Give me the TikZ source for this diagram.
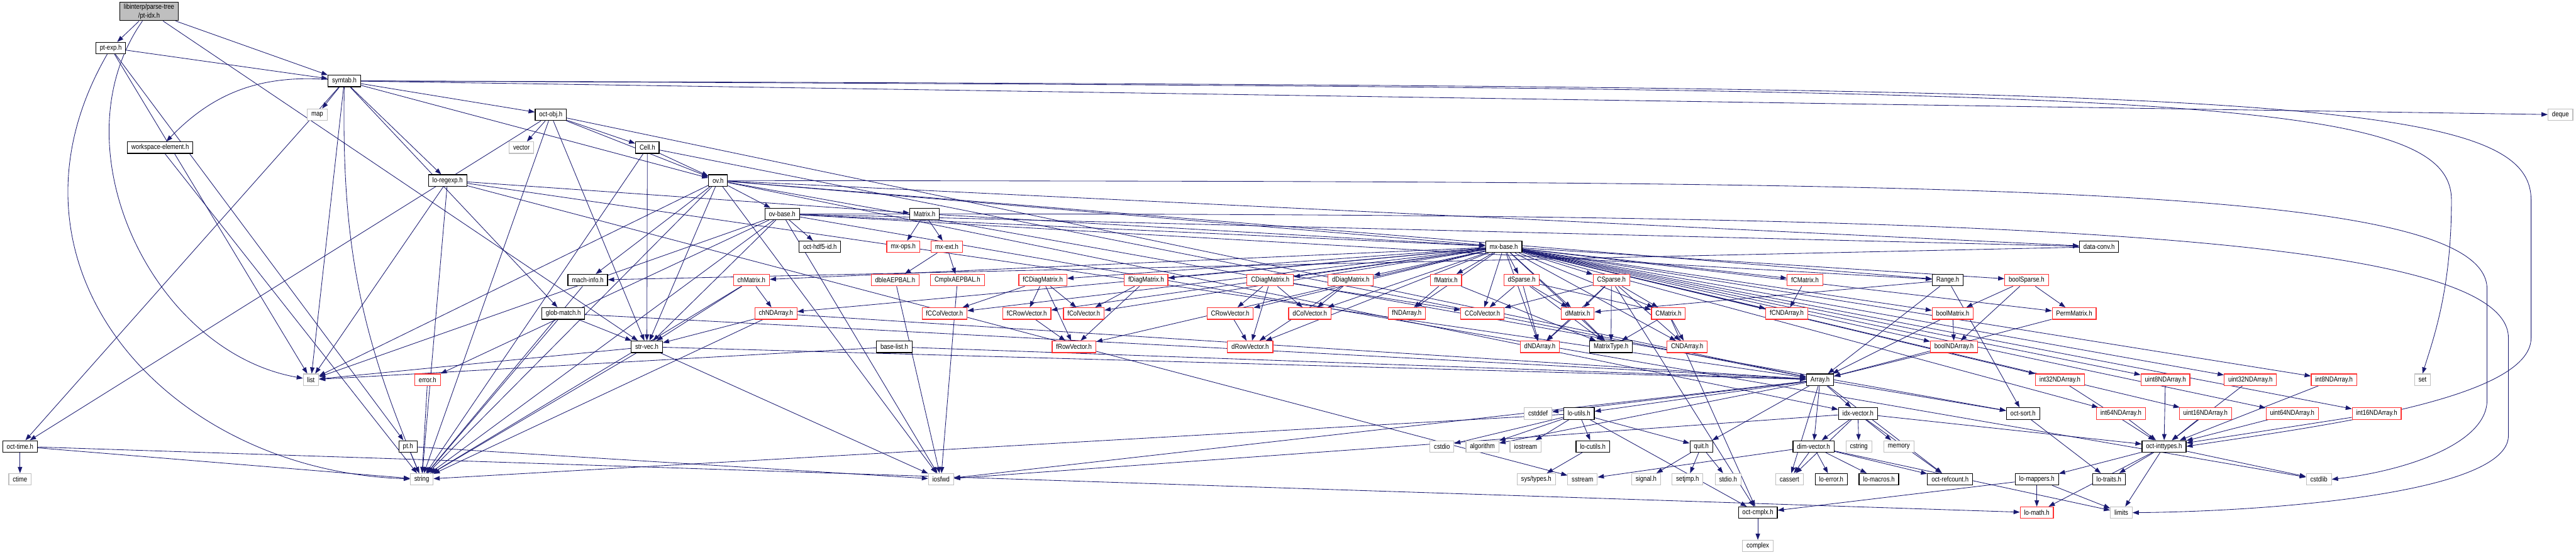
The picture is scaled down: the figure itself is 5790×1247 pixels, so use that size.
\documentclass[tikz,border=0pt]{standalone}
\usepackage{fontspec}
\newfontfamily\dotfont{Liberation Sans}[FakeStretch=0.85]
\usetikzlibrary{arrows.meta, backgrounds}
\definecolor{edgeblue}{HTML}{191970}
\definecolor{truncred}{HTML}{FF3030}
\definecolor{sysgray}{HTML}{BFBFBF}
\tikzset{
  hdr/.style={draw=black, fill=white, line width=0.8pt, inner xsep=4.5pt, inner ysep=0pt,
    minimum height=13pt, font=\dotfont\fontsize{8}{9.5}\selectfont},
  trunc/.style={hdr, draw=truncred},
  sys/.style={hdr, draw=sysgray},
  mainhdr/.style={hdr, fill=sysgray, align=center, minimum height=20.5pt},
  dep/.style={draw=edgeblue, line width=0.6pt, -{Triangle[length=7pt, width=5pt]}},
}
\begin{document}
\begin{tikzpicture}[x=0.5pt, y=-0.5pt]
  \useasboundingbox (0,0) rectangle (5790,1247);
  \node[mainhdr] (root) at (335,26) {libinterp/parse-tree\\/pt-idx.h};
  \node[hdr] (ptexp) at (249,108) {pt-exp.h};
  \node[hdr] (symtab) at (774,182) {symtab.h};
  \node[sys] (map) at (713,258) {map};
  \node[hdr] (octobj) at (1238,258) {oct-obj.h};
  \node[sys] (deque) at (5755,258) {deque};
  \node[hdr] (wselem) at (360,332) {workspace-element.h};
  \node[sys] (vector) at (1172,332) {vector};
  \node[hdr] (cell) at (1455,332) {Cell.h};
  \node[hdr] (regexp) at (1006,406) {lo-regexp.h};
  \node[hdr] (ov) at (1614,406) {ov.h};
  \node[hdr] (ovbase) at (1758,481) {ov-base.h};
  \node[hdr] (matrix) at (2078,481) {Matrix.h};
  \node[hdr] (hdfid) at (1843,555) {oct-hdf5-id.h};
  \node[trunc] (mxops) at (2030,555) {mx-ops.h};
  \node[trunc] (mxext) at (2128,555) {mx-ext.h};
  \node[hdr] (mxbase) at (3380,555) {mx-base.h};
  \node[hdr] (dataconv) at (4718,555) {data-conv.h};
  \node[hdr] (machinfo) at (1321,630) {mach-info.h};
  \node[trunc] (chmat) at (1689,630) {chMatrix.h};
  \node[trunc] (dbleaep) at (2012,630) {dbleAEPBAL.h};
  \node[trunc] (cmplxaep) at (2152,630) {CmplxAEPBAL.h};
  \node[trunc] (fcdiag) at (2344,630) {fCDiagMatrix.h};
  \node[trunc] (fdiag) at (2576,630) {fDiagMatrix.h};
  \node[trunc] (cdiag) at (2855,630) {CDiagMatrix.h};
  \node[trunc] (ddiag) at (3036,630) {dDiagMatrix.h};
  \node[trunc] (fmat) at (3250,630) {fMatrix.h};
  \node[trunc] (dsparse) at (3420,630) {dSparse.h};
  \node[trunc] (csparse) at (3622,630) {CSparse.h};
  \node[trunc] (fcmat) at (4057,630) {fCMatrix.h};
  \node[hdr] (range) at (4378,630) {Range.h};
  \node[trunc] (boolsparse) at (4555,630) {boolSparse.h};
  \node[hdr] (globmatch) at (1266,705) {glob-match.h};
  \node[trunc] (chnd) at (1744,705) {chNDArray.h};
  \node[trunc] (fccol) at (2123,705) {fCColVector.h};
  \node[trunc] (fcrow) at (2308,705) {fCRowVector.h};
  \node[trunc] (fcol) at (2436,705) {fColVector.h};
  \node[trunc] (crow) at (2765,705) {CRowVector.h};
  \node[trunc] (dcol) at (2944,705) {dColVector.h};
  \node[trunc] (fnd) at (3162,705) {fNDArray.h};
  \node[trunc] (ccol) at (3332,705) {CColVector.h};
  \node[trunc] (dmat) at (3546,705) {dMatrix.h};
  \node[trunc] (cmat) at (3750,705) {CMatrix.h};
  \node[trunc] (fcnd) at (4016,705) {fCNDArray.h};
  \node[trunc] (boolmat) at (4389,705) {boolMatrix.h};
  \node[trunc] (permmat) at (4662,705) {PermMatrix.h};
  \node[hdr] (strvec) at (1454,780) {str-vec.h};
  \node[hdr] (baselist) at (2010,780) {base-list.h};
  \node[trunc] (frow) at (2414,780) {fRowVector.h};
  \node[trunc] (drow) at (2810,780) {dRowVector.h};
  \node[trunc] (dnd) at (3461,780) {dNDArray.h};
  \node[hdr] (mtype) at (3621,780) {MatrixType.h};
  \node[trunc] (cnd) at (3792,780) {CNDArray.h};
  \node[trunc] (boolnd) at (4392,780) {boolNDArray.h};
  \node[sys] (list) at (699,854) {list};
  \node[trunc] (error) at (961,854) {error.h};
  \node[hdr] (array) at (4091,854) {Array.h};
  \node[trunc] (i32) at (4630,854) {int32NDArray.h};
  \node[trunc] (u8) at (4867,854) {uint8NDArray.h};
  \node[trunc] (u32) at (5058,854) {uint32NDArray.h};
  \node[trunc] (i8) at (5246,854) {int8NDArray.h};
  \node[sys] (set) at (5445,854) {set};
  \node[sys] (cstddef) at (3457,930) {cstddef};
  \node[hdr] (loutils) at (3549,930) {lo-utils.h};
  \node[hdr] (idxvec) at (4176,930) {idx-vector.h};
  \node[hdr] (octsort) at (4547,930) {oct-sort.h};
  \node[trunc] (i64) at (4767,930) {int64NDArray.h};
  \node[trunc] (u16) at (4957,930) {uint16NDArray.h};
  \node[trunc] (u64) at (5152,930) {uint64NDArray.h};
  \node[trunc] (i16) at (5342,930) {int16NDArray.h};
  \node[hdr] (octtime) at (45,1004) {oct-time.h};
  \node[hdr] (pt) at (917,1004) {pt.h};
  \node[sys] (cstdio) at (3241,1004) {cstdio};
  \node[sys] (algorithm) at (3332,1004) {algorithm};
  \node[sys] (iostream) at (3429,1004) {iostream};
  \node[hdr] (locutils) at (3580,1004) {lo-cutils.h};
  \node[hdr] (quit) at (3824,1004) {quit.h};
  \node[hdr] (dimvec) at (4076,1004) {dim-vector.h};
  \node[sys] (cstring) at (4178,1004) {cstring};
  \node[sys] (memory) at (4268,1004) {memory};
  \node[hdr] (inttypes) at (4864,1004) {oct-inttypes.h};
  \node[sys] (ctime) at (45,1078) {ctime};
  \node[sys] (string) at (948,1078) {string};
  \node[sys] (iosfwd) at (2115,1078) {iosfwd};
  \node[sys] (systypes) at (3453,1078) {sys/types.h};
  \node[sys] (sstream) at (3557,1078) {sstream};
  \node[sys] (signal) at (3700,1078) {signal.h};
  \node[sys] (setjmp) at (3793,1078) {setjmp.h};
  \node[sys] (stdio) at (3884,1078) {stdio.h};
  \node[sys] (cassert) at (4022,1078) {cassert};
  \node[hdr] (loerror) at (4116,1078) {lo-error.h};
  \node[hdr] (lomacros) at (4223,1078) {lo-macros.h};
  \node[hdr] (refcount) at (4383,1078) {oct-refcount.h};
  \node[hdr] (lomappers) at (4578,1078) {lo-mappers.h};
  \node[hdr] (lotraits) at (4740,1078) {lo-traits.h};
  \node[sys] (cstdlib) at (5212,1078) {cstdlib};
  \node[hdr] (octcmplx) at (3951,1153) {oct-cmplx.h};
  \node[trunc] (lomath) at (4578,1153) {lo-math.h};
  \node[sys] (limits) at (4768,1153) {limits};
  \node[sys] (complex) at (3951,1228) {complex};

  \begin{scope}[on background layer, every edge/.style={dep}]
  \path (root) edge (ptexp) edge (symtab) edge (strvec) edge[out=235, in=170] (list);
  \path (ptexp) edge (symtab) edge (list) edge (pt) edge[out=240, in=178, looseness=1.2] (string);
  \path (symtab) edge (map) edge[bend right=25] (wselem) edge (octobj) edge (ov) edge (regexp)
    edge (globmatch) edge (list) edge[bend right=12] (string) edge (octtime) edge (deque);
  \draw[dep] (symtab.east) .. controls (4800,200) and (5510,200) .. (5510,450)
    .. controls (5510,650) and (5470,760) .. (set.north);
  \draw[dep] (symtab.east) .. controls (5000,195) and (5689,200) .. (5689,450) -- (5689,760)
    .. controls (5689,900) and (5200,960) .. (inttypes.east);
  \path (wselem) edge (string);
  \path (regexp) edge (list) edge (string) edge (sstream) edge (matrix) edge (array);
  \path (octobj) edge (vector) edge (cell) edge (ov) edge (octtime) edge (strvec) edge (string)
    edge (array);
  \path (cell) edge (ov) edge (strvec) edge (array) edge (string);
  \path (ov) edge (machinfo) edge (ovbase) edge (strvec) edge (string) edge (list) edge (iosfwd)
    edge (mxbase) edge (range) edge (dataconv) edge (idxvec) edge (octsort);
  \draw[dep] (ov.east) .. controls (4300,410) and (5590,400) .. (5590,650) -- (5590,900)
    .. controls (5590,1000) and (5400,1060) .. (cstdlib.east);
  \path (ovbase) edge (hdfid) edge (mxbase) edge (range) edge (dataconv) edge (strvec)
    edge (string) edge (list) edge (iosfwd) edge (error) edge (cstdlib);
  \draw[dep] (ovbase.east) .. controls (4200,480) and (5638,500) .. (5638,760) -- (5638,980)
    .. controls (5638,1110) and (5100,1150) .. (limits.east);
  \path (machinfo) edge (string);
  \path (chmat) edge (chnd) edge (strvec) edge (string);
  \path (chnd) edge (strvec) edge (string) edge (array);
  \path (globmatch) edge (strvec) edge (string) edge (array);
  \path (strvec) edge (list) edge (string) edge (iosfwd) edge (array);
  \path (baselist) edge (list) edge (array);
  \path (pt) edge (string) edge (iosfwd);
  \path (error) edge (string);
  \path (octtime) edge (ctime) edge (string) edge (lomath);
  \path (matrix) edge (mxops) edge (mxext) edge (mxbase);
  \path (mxext) edge (dbleaep) edge (cmplxaep);
  \path (dbleaep) edge (iosfwd);
  \path (cmplxaep) edge (iosfwd);
  \path (mxbase) edge (mtype) edge (boolmat) edge (boolnd) edge (chmat) edge (chnd)
    edge (dcol) edge (drow) edge (dmat) edge (dnd) edge (ddiag)
    edge (ccol) edge (crow) edge (cmat) edge (cnd) edge (cdiag)
    edge (fcol) edge (frow) edge (fmat) edge (fnd) edge (fdiag)
    edge (fccol) edge (fcrow) edge (fcmat) edge (fcnd) edge (fcdiag)
    edge (i8) edge (i16) edge (i32) edge (i64) edge (u8) edge (u16) edge (u32) edge (u64)
    edge (boolsparse) edge (csparse) edge (dsparse) edge (permmat);
  \path (fcdiag) edge (fccol) edge (fcrow) edge (fcol) edge (frow);
  \path (fdiag) edge (fcol) edge (frow);
  \path (cdiag) edge (crow) edge (drow) edge (dcol) edge (ccol);
  \path (ddiag) edge (dcol) edge (drow);
  \path (fcrow) edge (frow);
  \path (crow) edge (drow);
  \path (fmat) edge (fnd) edge (mtype);
  \path (dsparse) edge (dmat) edge (dnd) edge (mtype) edge (cmat) edge (ccol);
  \path (csparse) edge (dmat) edge (cmat) edge (cnd) edge (mtype) edge (dnd) edge (ccol)
    edge (octcmplx);
  \path (dmat) edge (dnd) edge (mtype);
  \path (cmat) edge (mtype) edge (cnd) edge (octcmplx);
  \path (fcmat) edge (fcnd);
  \path (range) edge (dmat) edge (octsort) edge (array);
  \path (boolsparse) edge (boolmat) edge (boolnd) edge (permmat);
  \path (boolmat) edge (boolnd) edge (array);
  \path (boolnd) edge (array);
  \path (permmat) edge (array);
  \path (array) edge (idxvec) edge (dimvec) edge (cassert) edge (octsort) edge (refcount)
    edge (loutils) edge (cstddef) edge (algorithm) edge (iosfwd) edge (quit);
  \path (idxvec) edge (dimvec) edge (cstring) edge (memory) edge (refcount) edge (inttypes)
    edge (cassert) edge (iosfwd);
  \path (dimvec) edge (cassert) edge (loerror) edge (lomacros) edge (refcount) edge (limits)
    edge (sstream);
  \path (octsort) edge (lotraits);
  \path (inttypes) edge (lomappers) edge (lotraits) edge (lomath) edge (limits) edge (cstdlib);
  \path (i8) edge (inttypes);
  \path (i16) edge (inttypes);
  \path (i32) edge (inttypes);
  \path (i64) edge (inttypes);
  \path (u8) edge (inttypes);
  \path (u16) edge (inttypes);
  \path (u32) edge (inttypes);
  \path (u64) edge (inttypes);
  \path (lomappers) edge (lomath) edge (limits) edge (octcmplx);
  \path (loutils) edge (cstdio) edge (algorithm) edge (iostream) edge (locutils) edge (quit)
    edge (octcmplx) edge (string);
  \path (locutils) edge (systypes);
  \path (quit) edge (signal) edge (setjmp) edge (stdio);
  \path (octcmplx) edge (complex);
  \path (dataconv) edge (machinfo);
  \end{scope}
\end{tikzpicture}
\end{document}
